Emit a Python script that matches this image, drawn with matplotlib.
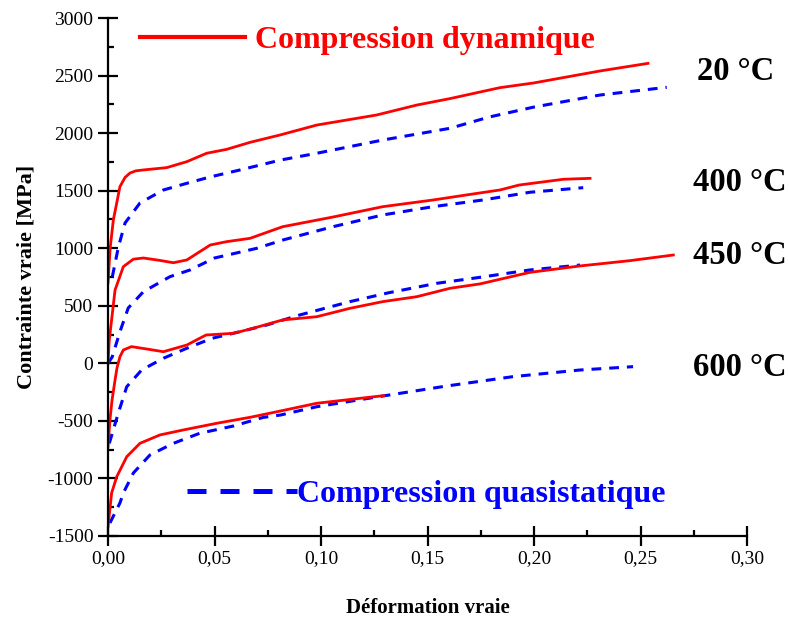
import matplotlib
matplotlib.use("Agg")
import matplotlib.pyplot as plt
from matplotlib.lines import Line2D
from matplotlib.ticker import FuncFormatter, MultipleLocator

plt.rcParams['font.family'] = ['Liberation Serif', 'DejaVu Serif']

# dynamic compression (red, solid)
dyn_20_x = [0.0, 0.001, 0.0025, 0.0056, 0.008, 0.0103, 0.013, 0.0166, 0.0275, 0.037, 0.0463, 0.0557, 0.0667,
            0.0808, 0.098, 0.126, 0.145, 0.1606, 0.184, 0.1996, 0.231, 0.2535]
dyn_20_y = [700, 1000, 1245, 1535, 1615, 1653, 1672, 1680, 1700, 1752, 1825, 1859, 1920,
            1984, 2070, 2157, 2244, 2300, 2395, 2435, 2540, 2606]

dyn_400_x = [0.0, 0.0006, 0.0033, 0.0072, 0.0119, 0.0166, 0.024, 0.0307, 0.037, 0.048, 0.0557,
             0.0667, 0.082, 0.1056, 0.129, 0.1526, 0.168, 0.184, 0.193, 0.2138, 0.2263]
dyn_400_y = [0, 203, 637, 840, 905, 915, 895, 874, 898, 1028, 1057,
             1086, 1187, 1271, 1361, 1419, 1462, 1506, 1549, 1599, 1607]

dyn_450_x = [0.0, 0.0009, 0.0019, 0.0033, 0.0042, 0.0056, 0.0072, 0.011, 0.018, 0.026, 0.037,
             0.046, 0.059, 0.068, 0.082, 0.098, 0.1136, 0.129, 0.145, 0.1606, 0.1746,
             0.198, 0.2216, 0.245, 0.2654]
dyn_450_y = [-724, -492, -318, -145, -41, 57, 116, 145, 125, 101, 159,
             246, 261, 304, 377, 405, 478, 536, 579, 652, 690,
             790, 846, 892, 941]

dyn_600_x = [0.0, 0.0017, 0.0041, 0.0088, 0.015, 0.0244, 0.0353, 0.051, 0.0667, 0.081, 0.098, 0.1293]
dyn_600_y = [-1419, -1126, -985, -811, -695, -622, -579, -521, -469, -414, -347, -281]

# quasi-static compression (blue, dashed)
qs_20_x = [0.002, 0.0049, 0.008, 0.015, 0.026, 0.037, 0.0479, 0.062, 0.081, 0.098, 0.129,
           0.1606, 0.179, 0.1996, 0.231, 0.2623]
qs_20_y = [750, 1013, 1219, 1393, 1506, 1564, 1619, 1680, 1766, 1825, 1940,
           2042, 2140, 2225, 2331, 2398]

qs_400_x = [0.0, 0.002, 0.0056, 0.0095, 0.0166, 0.0291, 0.0385, 0.05, 0.0698, 0.082, 0.1056,
            0.129, 0.1526, 0.176, 0.198, 0.2231]
qs_400_y = [0, 57, 275, 481, 622, 753, 811, 915, 999, 1071, 1187,
            1289, 1361, 1419, 1486, 1526]

qs_450_x = [0.0006, 0.0048, 0.0088, 0.0158, 0.026, 0.037, 0.049, 0.062, 0.0745, 0.09, 0.1136,
            0.132, 0.1543, 0.1746, 0.198, 0.2216]
qs_450_y = [-695, -434, -203, -58, 44, 131, 218, 275, 333, 420, 536,
            614, 695, 747, 811, 854]

qs_600_x = [0.0009, 0.0056, 0.0072, 0.0119, 0.0197, 0.0307, 0.043, 0.059, 0.0728, 0.081, 0.098,
            0.129, 0.159, 0.19, 0.2216, 0.2465]
qs_600_y = [-1387, -1213, -1126, -953, -796, -695, -608, -544, -470, -449, -377,
            -284, -197, -116, -58, -29]

temps = ['20 °C', '400 °C', '450 °C', '600 °C']
temp_x = [0.2765, 0.2748, 0.2748, 0.2748]
temp_y = [2531, 1575, 933, -32]

fig = plt.figure(figsize=(7.89, 6.21), dpi=100)
ax = fig.add_axes([0.1369, 0.1369, 0.8099, 0.8341])

blue_ls = (0, (3.2, 2.6))
for xs, ys in [(qs_20_x, qs_20_y), (qs_400_x, qs_400_y), (qs_450_x, qs_450_y), (qs_600_x, qs_600_y)]:
    ax.plot(xs, ys, color='#0000ff', lw=2.2, linestyle=blue_ls)
for xs, ys in [(dyn_20_x, dyn_20_y), (dyn_400_x, dyn_400_y), (dyn_450_x, dyn_450_y), (dyn_600_x, dyn_600_y)]:
    ax.plot(xs, ys, color='#ff0000', lw=2.0)

for t, tx, ty in zip(temps, temp_x, temp_y):
    ax.text(tx, ty, t, fontsize=23.5, fontweight='bold', va='center', ha='left', clip_on=False)

h_red = Line2D([], [], color='#ff0000', lw=3.0)
h_blue = Line2D([], [], color='#0000ff', lw=3.6, linestyle=(0, (3.8, 2.8)))
leg1 = ax.legend([h_red], ['Compression dynamique'], loc='center left', bbox_to_anchor=(0.05, 0.957),
                 frameon=False, borderpad=0, borderaxespad=0, handlelength=3.3, handletextpad=0.3,
                 prop={'weight': 'bold', 'size': 23}, labelcolor='#ff0000')
ax.add_artist(leg1)
ax.legend([h_blue], ['Compression quasistatique'], loc='center left', bbox_to_anchor=(0.1236, 0.081),
          frameon=False, borderpad=0, borderaxespad=0, handlelength=3.45, handletextpad=0.0,
          prop={'weight': 'bold', 'size': 23}, labelcolor='#0000ff')

ax.set_xlim(0, 0.30)
ax.set_ylim(-1500, 3000)
ax.xaxis.set_major_locator(MultipleLocator(0.05))
ax.xaxis.set_minor_locator(MultipleLocator(0.025))
ax.yaxis.set_major_locator(MultipleLocator(500))
ax.yaxis.set_minor_locator(MultipleLocator(250))
ax.xaxis.set_major_formatter(FuncFormatter(lambda v, _: f"{v:.2f}".replace('.', ',')))
ax.yaxis.set_major_formatter(FuncFormatter(lambda v, _: f"{int(round(v))}"))

ax.spines['top'].set_visible(False)
ax.spines['right'].set_visible(False)
ax.spines['left'].set_linewidth(1.6)
ax.spines['bottom'].set_linewidth(1.6)
ax.tick_params(which='major', direction='inout', length=15, width=1.6, labelsize=14, pad=3)
ax.tick_params(which='minor', direction='in', length=4, width=1.6)

ax.set_xlabel('Déformation vraie', fontsize=15, fontweight='bold', labelpad=22)
ax.set_ylabel('Contrainte vraie [MPa]', fontsize=16, fontweight='bold', labelpad=8)

fig.savefig('out.png', dpi=100)
